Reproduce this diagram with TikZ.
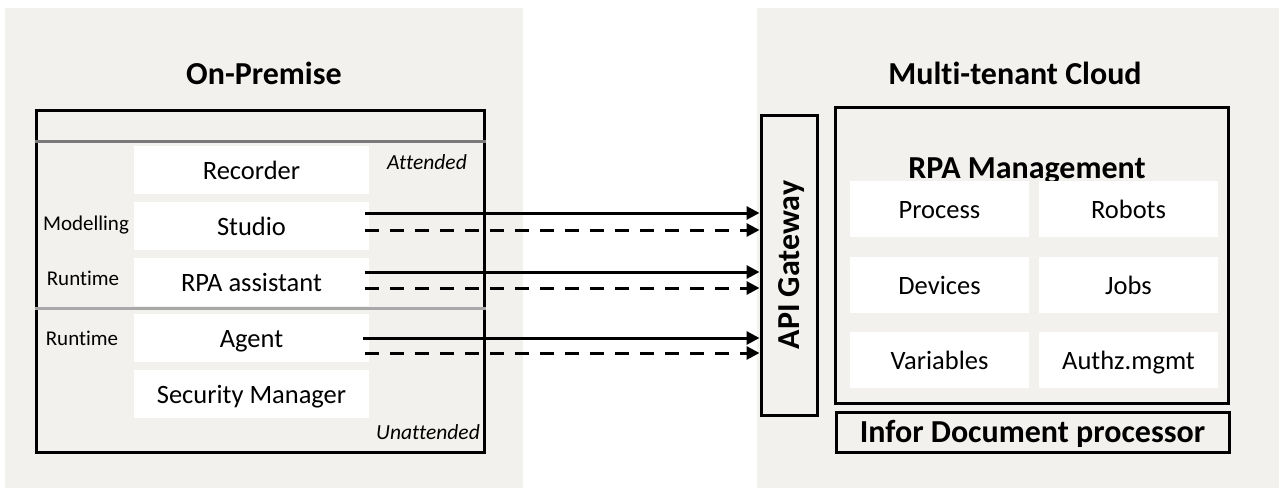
\documentclass[tikz,border=0pt]{standalone}
\usepackage{fontspec}
\setmainfont{Carlito}[Ligatures=NoCommon]
\usetikzlibrary{arrows.meta}
\definecolor{panelbg}{RGB}{242,241,237}
\definecolor{darkline}{RGB}{122,122,122}
\definecolor{lightline}{RGB}{168,168,168}
\tikzset{
  panel/.style={fill=panelbg, draw=none},
  frame/.style={draw=black, line width=3pt},
  wbox/.style={inner sep=0pt, text height=18pt, text depth=0pt, fill=white, draw=none, font=\fontsize{26.5}{30}\selectfont},
  sidelabel/.style={inner sep=0pt, text height=13.5pt, text depth=0pt, font=\fontsize{21}{25}\selectfont},
  modelabel/.style={inner sep=0pt, text height=14pt, text depth=0pt, font=\fontsize{21.5}{25}\selectfont\itshape},
  title/.style={inner sep=0pt, text height=20.6pt, text depth=0pt, font=\fontsize{32}{36}\selectfont\bfseries},
  conn/.style={line width=3pt, -{Triangle[length=13pt,width=13pt]}},
  dconn/.style={conn, dash pattern=on 14pt off 11pt},
}
\begin{document}
\begin{tikzpicture}[x=1pt,y=-1pt]
\useasboundingbox (0,0) rectangle (1279,488);
% background panels
\fill[panel] (5,8) rectangle (523,488);
\fill[panel] (757,8) rectangle (1279,488);
% titles
\node[title] (onprem) at (264,74) {On-Premise};
\node[title] (cloud) at (1015,74) {Multi-tenant Cloud};
% on-premise frame
\node[frame, minimum width=448pt, minimum height=342pt, inner sep=0pt] (opbox) at (260,281) {};
\draw[darkline, line width=3pt] (opbox.west |- 0,141) -- (opbox.east |- 0,141);
% white boxes
\node[wbox, minimum width=235pt, minimum height=48pt] (recorder) at (251.5,170) {Recorder};
\node[wbox, minimum width=235pt, minimum height=48pt] (studio) at (251.5,226) {Studio};
\node[wbox, minimum width=235pt, minimum height=48pt] (assistant) at (251.5,282) {RPA assistant};
\node[wbox, minimum width=235pt, minimum height=48pt] (agent) at (251.5,338) {Agent};
\node[wbox, minimum width=235pt, minimum height=48pt] (secmgr) at (251.5,394) {Security Manager};
\draw[lightline, line width=3pt] (opbox.west |- 0,308) -- (opbox.east |- 0,308);
% labels
\node[modelabel] (attended) at (427,162) {Attended};
\node[modelabel] (unattended) at (428,432) {Unattended};
\node[sidelabel] (modelling) at (86,224) {Modelling};
\node[sidelabel] (runtime1) at (83,279) {Runtime};
\node[sidelabel] (runtime2) at (82,339) {Runtime};
% API gateway
\node[frame, minimum width=56pt, minimum height=300pt, inner sep=0pt] (api) at (789,265) {};
\node[title, rotate=90] (apilabel) at (api.center) {API Gateway};
% RPA management
\node[frame, minimum width=393pt, minimum height=296pt, inner sep=0pt] (rpabox) at (1031.5,255) {};
\node[title] (rpatitle) at (1027,168) {RPA Management};
\node[wbox, minimum width=179pt, minimum height=56pt] (process) at (939.5,209) {Process};
\node[wbox, minimum width=179pt, minimum height=56pt] (robots) at (1128.5,209) {Robots};
\node[wbox, minimum width=179pt, minimum height=56pt] (devices) at (939.5,285) {Devices};
\node[wbox, minimum width=179pt, minimum height=56pt] (jobs) at (1128.5,285) {Jobs};
\node[wbox, minimum width=179pt, minimum height=56pt] (variables) at (939.5,360) {Variables};
\node[wbox, minimum width=179pt, minimum height=56pt] (authz) at (1128.5,360) {Authz.mgmt};
% Infor document processor
\node[frame, title, minimum width=393pt, minimum height=40pt] (infor) at (1032.5,432) {Infor Document processor};
% connectors
\draw[conn] ([xshift=-4pt,yshift=13pt]studio.east) coordinate (s1) -- (s1 -| api.west);
\draw[dconn] ([xshift=-4pt,yshift=-4pt]studio.east) coordinate (d1) -- (d1 -| api.west);
\draw[conn] ([xshift=-4pt,yshift=10pt]assistant.east) coordinate (s2) -- (s2 -| api.west);
\draw[dconn] ([xshift=-4pt,yshift=-6pt]assistant.east) coordinate (d2) -- (d2 -| api.west);
\draw[conn] ([xshift=-6pt,yshift=0pt]agent.east) coordinate (s3) -- (s3 -| api.west);
\draw[dconn] ([xshift=-4pt,yshift=-15pt]agent.east) coordinate (d3) -- (d3 -| api.west);
\end{tikzpicture}
\end{document}
